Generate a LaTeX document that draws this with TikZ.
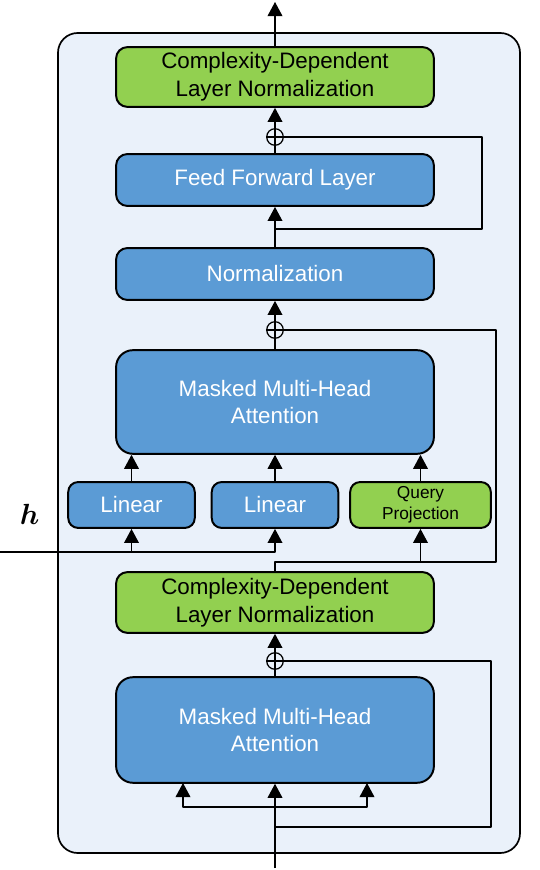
\documentclass[tikz,border=0pt]{standalone}
\usepackage{fontspec}
\setmainfont{Liberation Sans}
\usepackage{bm}
\usetikzlibrary{arrows.meta}
\definecolor{blueblk}{HTML}{5B9BD5}
\definecolor{greenblk}{HTML}{92D050}
\definecolor{bgblue}{HTML}{EAF1FA}

\begin{document}
\begin{tikzpicture}[x=0.025cm, y=0.025cm, line join=round, line width=0.8pt, >={Triangle[length=10pt,width=10.5pt]},
    font=\fontsize{15.9}{19.8}\selectfont,
    blk/.style={draw, line width=1.4pt, rounded corners=8pt, fill=blueblk, text=white, align=center, inner sep=0pt, minimum width=226pt},
    grn/.style={blk, fill=greenblk, text=black},
    add/.style={circle, draw, fill=bgblue, line width=0.9pt, minimum size=11.8pt, inner sep=0pt,
        path picture={\draw[line width=0.9pt] (path picture bounding box.north) -- (path picture bounding box.south) (path picture bounding box.west) -- (path picture bounding box.east);}}]
    \useasboundingbox (0,0) rectangle (540,870);
    % outer block
    \draw[line width=1.2pt, fill=bgblue, rounded corners=14pt] (58,17) rectangle (520,837);
    % blocks
    \node[grn, minimum height=42.5pt] (cdlnTop) at (275,793) {Complexity-Dependent\\Layer Normalization};
    \node[blk, minimum height=36.9pt] (ffl) at (275,690) {Feed Forward Layer};
    \node[blk, minimum height=36.9pt] (norm) at (275,596) {Normalization};
    \node[blk, minimum height=73.7pt, rounded corners=12pt] (mhaTop) at (275,468) {Masked Multi-Head\\Attention};
    \node[blk, minimum width=90pt, minimum height=32.6pt, rounded corners=7pt] (lin1) at (131.5,365) {Linear};
    \node[blk, minimum width=90pt, minimum height=32.6pt, rounded corners=7pt] (lin2) at (275,365) {Linear};
    \node[grn, minimum width=100pt, minimum height=32.6pt, rounded corners=7pt, font=\fontsize{12.3}{14.9}\selectfont] (qp) at (420.5,365) {Query\\Projection};
    \node[grn, minimum height=43.2pt] (cdlnBot) at (275,267.5) {Complexity-Dependent\\Layer Normalization};
    \node[blk, minimum height=75.1pt, rounded corners=12pt] (mhaBot) at (275,140) {Masked Multi-Head\\Attention};
    \node[add] (plus1) at (275,733) {};
    \node[add] (plus2) at (275,540) {};
    \node[add] (plus3) at (275,209) {};
    \node[font=\fontsize{21}{21}\selectfont] (hlab) at (29.5,355.5) {$\bm{h}$};
    % free ends and corners
    \coordinate (out) at (275,868);
    \coordinate (in) at (275,2);
    \coordinate (hin) at (0,318);
    \coordinate (br) at (275,63);
    \coordinate (kin) at (183,87);
    \coordinate (vin) at (367,87);
    \coordinate (skip1) at (275,641);
    \coordinate (c1) at (482,641);
    \coordinate (skip2) at (275,308);
    \coordinate (c2) at (496,308);
    \coordinate (skip3) at (275,43);
    \coordinate (c3) at (491,43);
    % bottom layer
    \draw[->] (in) -- (mhaBot);
    \draw[->] (br) -| (kin);
    \draw[->] (br) -| (vin);
    \draw (skip3) -- (c3) |- (plus3);
    \draw (mhaBot) -- (plus3);
    \draw[->] (plus3) -- (cdlnBot);
    % cross attention
    \draw (cdlnBot) -- (skip2) -- (c2) |- (plus2);
    \draw[->] (qp |- skip2) -- (qp);
    \draw[->] (hin) -| (lin2);
    \draw[->] (lin1 |- hin) -- (lin1);
    \foreach \n in {lin1,lin2,qp} \draw[->] (\n) -- (\n |- mhaTop.south);
    \draw (mhaTop) -- (plus2);
    \draw[->] (plus2) -- (norm);
    % feed forward
    \draw[->] (norm) -- (ffl);
    \draw (skip1) -- (c1) |- (plus1);
    \draw (ffl) -- (plus1);
    \draw[->] (plus1) -- (cdlnTop);
    \draw[->] (cdlnTop) -- (out);
\end{tikzpicture}
\end{document}
